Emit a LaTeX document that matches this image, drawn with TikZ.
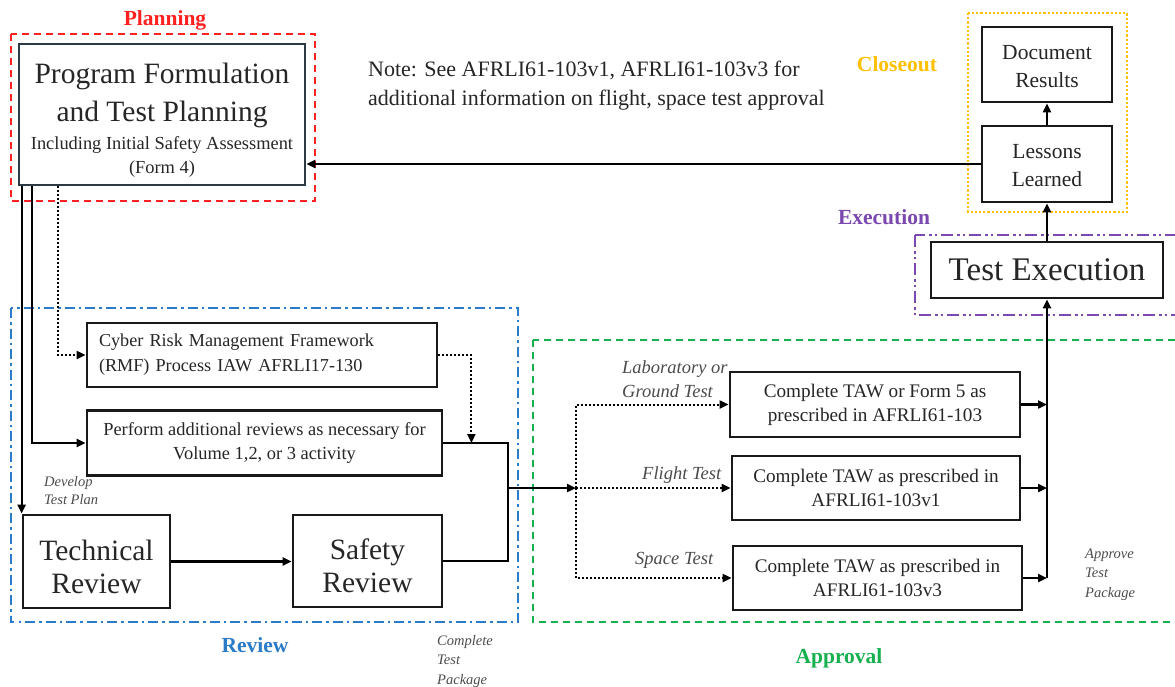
\documentclass[tikz,border=0pt]{standalone}
\usepackage{fontspec}
\setmainfont{Liberation Serif}
\usetikzlibrary{arrows.meta,calc}
\definecolor{plred}{HTML}{FF2020}
\definecolor{clorange}{HTML}{FFC000}
\definecolor{expurple}{HTML}{7A48AE}
\definecolor{rvblue}{HTML}{2A7BC8}
\definecolor{apgreen}{HTML}{16B04E}
\definecolor{slate}{HTML}{2C3A44}
\tikzset{
  box/.style={draw=black!90, line width=2.8pt, fill=white, inner sep=0pt, align=center, text=black!85},
  boxtext/.style={inner sep=0pt, align=center, text=black!85},
  arr/.style={line width=2.2pt, -{Triangle[length=9pt,width=8pt]}},
  ln/.style={line width=2.2pt},
  dotarr/.style={line width=2pt, dotted, -{Triangle[length=9pt,width=8pt]}},
  grp/.style={line width=2.8pt},
  lbl/.style={font=\fontsize{21.5}{24}\selectfont\bfseries},
  ital/.style={font=\fontsize{18.5}{24}\selectfont\itshape, text=black!70, inner sep=0pt, align=left},
  smital/.style={font=\fontsize{14.5}{19.5}\selectfont\itshape, text=black!70, inner sep=0pt, align=left},
}
\begin{document}
\begin{tikzpicture}[x=1pt,y=-1pt]
\clip (0,0) rectangle (1175,686);
\fill[white] (0,0) rectangle (1175,686);
% group frames
\draw[grp, plred, dash pattern=on 7pt off 5pt] (11,34) rectangle (315,201);
\draw[grp, rvblue, dash pattern=on 10pt off 4pt on 2.5pt off 4pt] (11,308) rectangle (518,622);
\draw[grp, apgreen, dash pattern=on 7pt off 5pt] (533,340) rectangle (1190,622);
\draw[grp, expurple, dash pattern=on 12pt off 4pt on 2.5pt off 3pt on 2.5pt off 4pt] (915,235) rectangle (1190,315);
\draw[line width=2.2pt, clorange, dotted] (968,13) rectangle (1127,212);
% group labels
\node[lbl, text=plred] (lplan) at (165,20) {Planning};
\node[lbl, text=clorange] (lclose) at (897,64) {Closeout};
\node[lbl, text=expurple] (lexec) at (884,217) {Execution};
\node[lbl, text=rvblue] (lrev) at (255,645) {Review};
\node[lbl, text=apgreen] (lapp) at (839,658) {Approval};
% note
\node[anchor=west, align=left, inner sep=0pt, font=\fontsize{22}{29}\selectfont, text=black!85] (note) at (368,86)
  {Note: See AFRLI61-103v1, AFRLI61-103v3 for\\additional information on flight, space test approval};
% boxes
\node[box, draw=slate, minimum width=286pt, minimum height=141pt] (prog) at (162,114.5) {};
\node[boxtext, font=\fontsize{29.5}{38}\selectfont] (progtext) at (162,120)
  {Program Formulation\\and Test Planning\\[-10pt]
   \fontsize{18.4}{24}\selectfont Including Initial Safety Assessment\\[-14pt]
   \fontsize{18.4}{24}\selectfont (Form 4)};
\node[box, minimum width=130pt, minimum height=75pt] (doc) at (1047,64.5) {};
\node[boxtext, font=\fontsize{21.5}{28}\selectfont] (doctext) at (1047,67) {Document\\Results};
\node[box, minimum width=130pt, minimum height=76pt] (les) at (1047,164) {};
\node[boxtext, font=\fontsize{21.5}{28}\selectfont] (lestext) at (1047,166) {Lessons\\Learned};
\node[box, minimum width=232pt, minimum height=56pt, font=\fontsize{33}{36}\selectfont] (texe) at (1047,270) {Test Execution};
\node[box, minimum width=350pt, minimum height=64pt, font=\fontsize{18.2}{25}\selectfont, align=left, text width=326pt] (cyber) at (262,355)
  {Cyber Risk Management Framework\\(RMF) Process IAW AFRLI17-130};
\node[box, minimum width=355pt, minimum height=65pt, font=\fontsize{18.4}{24}\selectfont] (perf) at (264.5,443)
  {Perform additional reviews as necessary for\\Volume 1,2, or 3 activity};
\node[box, minimum width=147pt, minimum height=93pt] (tech) at (96.5,561.5) {};
\node[boxtext, font=\fontsize{29.5}{33}\selectfont] (techtext) at (96.5,567) {Technical\\Review};
\node[box, minimum width=149pt, minimum height=92pt] (saf) at (367.5,561) {};
\node[boxtext, font=\fontsize{29.5}{33}\selectfont] (saftext) at (367.5,566) {Safety\\Review};
\node[box, minimum width=290pt, minimum height=65pt, font=\fontsize{19.2}{24}\selectfont] (lab) at (875,404.5) {Complete TAW or Form 5 as\\prescribed in AFRLI61-103};
\node[box, minimum width=288pt, minimum height=64pt, font=\fontsize{19.2}{24}\selectfont] (fli) at (876,488) {Complete TAW as prescribed in\\AFRLI61-103v1};
\node[box, minimum width=289pt, minimum height=64pt, font=\fontsize{19.2}{24}\selectfont] (spa) at (877.5,578) {Complete TAW as prescribed in\\AFRLI61-103v3};
% italic labels (base = baseline of last line)
\node[ital, anchor=base west] (llab) at (622,397) {Laboratory or\\Ground Test};
\node[ital, anchor=base west] (lfli) at (642,479) {Flight Test};
\node[ital, anchor=base west] (lspa) at (635,564) {Space Test};
\node[smital, anchor=base west, font=\fontsize{14.5}{18}\selectfont\itshape] (ldev) at (44,504) {Develop\\Test Plan};
\node[smital, anchor=base west] (lctp) at (437,684) {Complete\\Test\\Package};
\node[smital, anchor=base west] (latp) at (1085,597) {Approve\\Test\\Package};
% connectors
\coordinate (J) at (508,488);
\coordinate (S) at (576,488);
\draw[arr] (prog.south -| tech.north west) -- (tech.north west);
\draw[arr] ($(prog.south west)+(14,0)$) |- (perf.west);
\draw[dotarr] ($(prog.south west)+(40,0)$) |- (cyber.west);
\draw[dotarr] (cyber.east) -| ($(perf.east)+(28,0)$);
\draw[ln] (perf.east) -| (J) |- (saf.east);
\draw[arr] (J) -- (S);
\draw[arr] (tech.east) -- (tech.east -| saf.west);
\draw[dotarr] (S) |- (lab.west);
\draw[dotarr] (S) -- (fli.west);
\draw[dotarr] (S) |- (spa.west);
\draw[arr] (lab.east) -- (lab.east -| texe.south);
\draw[arr] (fli.east) -- (fli.east -| texe.south);
\draw[arr] (spa.east) -- (spa.east -| texe.south);
\draw[arr] (spa.east -| texe.south) -- (texe.south);
\draw[arr] (texe.north) -- (les.south);
\draw[arr] (les.north) -- (doc.south);
\draw[arr] (les.west) -- (les.west -| prog.east);
\end{tikzpicture}
\end{document}
